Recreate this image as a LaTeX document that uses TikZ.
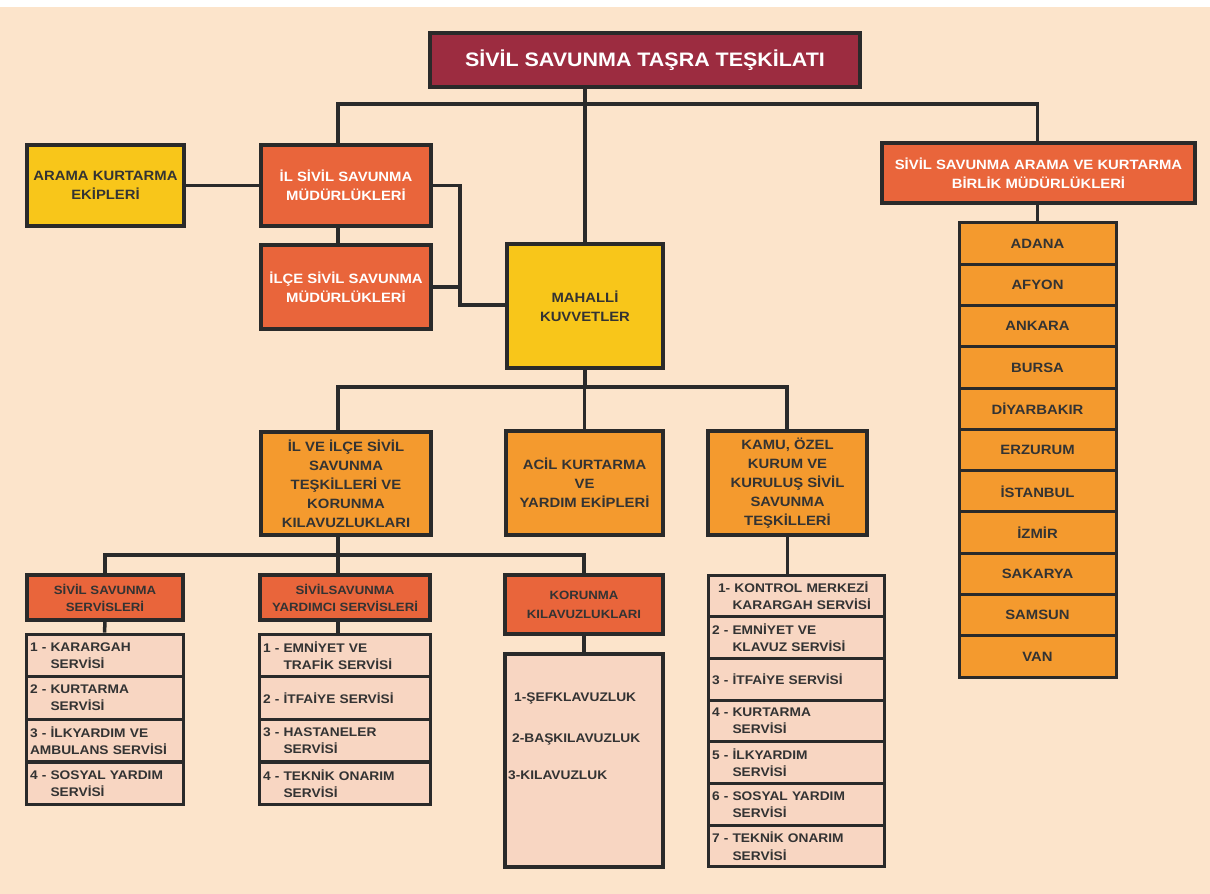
\documentclass[tikz,border=0pt]{standalone}
\usepackage{fontspec}
\setmainfont[FakeStretch=1.1]{Liberation Sans}
\definecolor{paper}{HTML}{FCE4CB}
\definecolor{wine}{HTML}{9C2C40}
\definecolor{brick}{HTML}{E9653B}
\definecolor{gold}{HTML}{F8C61A}
\definecolor{amber}{HTML}{F49A2E}
\definecolor{blush}{HTML}{F8D6C2}
\definecolor{edge}{HTML}{2A2A2A}
\definecolor{ink}{HTML}{333333}
\newcommand\rowind{\hphantom{1 - }}
\begin{document}
\begin{tikzpicture}[x=1pt, y=-1pt,
    box/.style={draw=edge, line width=3.5pt, align=center, inner sep=2pt, text=ink,
      font=\fontsize{13.5}{19}\selectfont\bfseries},
    titlebox/.style={box, fill=wine, text=white, font=\fontsize{19.5}{22}\selectfont\bfseries},
    redbox/.style={box, fill=brick, text=white},
    yellowbox/.style={box, fill=gold},
    orangebox/.style={box, fill=amber},
    headbox/.style={box, fill=brick, font=\fontsize{12}{17}\selectfont\bfseries},
    citybox/.style={box, fill=amber, line width=3pt, minimum width=157, minimum height=41.3},
    rowbox/.style={draw=edge, line width=3pt, fill=blush, align=left, inner xsep=4pt,
      inner ysep=1pt, text=ink, minimum height=42.8, font=\fontsize{12.5}{17}\selectfont\bfseries},
    leftrow/.style={rowbox, text width=149},
    midrow/.style={rowbox, text width=163},
    kamurow/.style={rowbox, text width=168, minimum height=41.7,
      font=\fontsize{12.5}{17.5}\selectfont\bfseries},
    item/.style={anchor=west, inner sep=0pt, text=ink, font=\fontsize{12.5}{15}\selectfont\bfseries},
    link/.style={draw=edge, line width=3.5pt}]
    \useasboundingbox (0,0) rectangle (1210,894);
    \fill[paper] (0,0) rectangle (1210,894);
    \fill[white] (0,0) rectangle (1210,7);

    \node[titlebox, minimum width=430, minimum height=54] (top) at (645,60) {SİVİL SAVUNMA TAŞRA TEŞKİLATI};
    \node[yellowbox, minimum width=157, minimum height=81] (arama) at (105.5,185.5) {ARAMA KURTARMA\\EKİPLERİ};
    \node[redbox, minimum width=170, minimum height=81] (il) at (346,185.5) {İL SİVİL SAVUNMA\\MÜDÜRLÜKLERİ};
    \node[redbox, minimum width=170, minimum height=84] (ilce) at (346,287) {İLÇE SİVİL SAVUNMA\\MÜDÜRLÜKLERİ};
    \node[yellowbox, minimum width=156, minimum height=124] (mah) at (585,306) {MAHALLİ\\KUVVETLER};
    \node[redbox, minimum width=313, minimum height=60] (birlik) at (1038.5,173) {SİVİL SAVUNMA ARAMA VE KURTARMA\\BİRLİK MÜDÜRLÜKLERİ};

    \node[citybox] (c1) at (1037.5,243.6) {ADANA};
    \node[citybox] (c2) at (1037.5,284.9) {AFYON};
    \node[citybox] (c3) at (1037.5,326.2) {ANKARA};
    \node[citybox] (c4) at (1037.5,367.5) {BURSA};
    \node[citybox] (c5) at (1037.5,408.7) {DİYARBAKIR};
    \node[citybox] (c6) at (1037.5,450.0) {ERZURUM};
    \node[citybox] (c7) at (1037.5,491.3) {İSTANBUL};
    \node[citybox] (c8) at (1037.5,532.6) {İZMİR};
    \node[citybox] (c9) at (1037.5,573.8) {SAKARYA};
    \node[citybox] (c10) at (1037.5,615.1) {SAMSUN};
    \node[citybox] (c11) at (1037.5,656.4) {VAN};

    \node[orangebox, minimum width=170, minimum height=103] (ilve) at (346,483.5) {İL VE İLÇE SİVİL\\SAVUNMA\\TEŞKİLLERİ VE\\KORUNMA\\KILAVUZLUKLARI};
    \node[orangebox, minimum width=157, minimum height=104] (acil) at (584.5,483) {ACİL KURTARMA\\VE\\YARDIM EKİPLERİ};
    \node[orangebox, minimum width=159, minimum height=104] (kamu) at (787.5,483) {KAMU, ÖZEL\\KURUM VE\\KURULUŞ SİVİL\\SAVUNMA\\TEŞKİLLERİ};

    \node[headbox, minimum width=156, minimum height=45] (ss) at (105,597.5) {SİVİL SAVUNMA\\SERVİSLERİ};
    \node[headbox, minimum width=170, minimum height=45] (sy) at (345,597.5) {SİVİLSAVUNMA\\YARDIMCI SERVİSLERİ};
    \node[headbox, minimum width=158, minimum height=59, font=\fontsize{12}{19}\selectfont\bfseries] (kor) at (584,604.5) {KORUNMA\\KILAVUZLUKLARI};

    \node[leftrow] (l1) at (104.5,655.5) {1 - KARARGAH\\\rowind SERVİSİ};
    \node[leftrow] (l2) at (104.5,698) {2 - KURTARMA\\\rowind SERVİSİ};
    \node[leftrow] (l3) at (104.5,740.5) {3 - İLKYARDIM VE\\AMBULANS SERVİSİ};
    \node[leftrow] (l4) at (104.5,783.5) {4 - SOSYAL YARDIM\\\rowind SERVİSİ};

    \node[midrow] (m1) at (344.5,655.5) {1 - EMNİYET VE\\\rowind TRAFİK SERVİSİ};
    \node[midrow] (m2) at (344.5,698) {2 - İTFAİYE SERVİSİ};
    \node[midrow] (m3) at (344.5,740.5) {3 - HASTANELER\\\rowind SERVİSİ};
    \node[midrow] (m4) at (344.5,783.5) {4 - TEKNİK ONARIM\\\rowind SERVİSİ};

    \node[draw=edge, line width=3.5pt, fill=blush, minimum width=158, minimum height=213] (korl) at (584,760.5) {};
    \node[item] (k1) at (514,698) {1-ŞEFKLAVUZLUK};
    \node[item] (k2) at (512,739) {2-BAŞKILAVUZLUK};
    \node[item] (k3) at (508,775) {3-KILAVUZLUK};

    \node[kamurow] (n1) at (796,595.9) {\hspace*{6pt}1- KONTROL MERKEZİ\\\rowind KARARGAH SERVİSİ};
    \node[kamurow] (n2) at (796,637.6) {2 - EMNİYET VE\\\rowind KLAVUZ SERVİSİ};
    \node[kamurow] (n3) at (796,679.3) {3 - İTFAİYE SERVİSİ};
    \node[kamurow] (n4) at (796,721.0) {4 - KURTARMA\\\rowind SERVİSİ};
    \node[kamurow] (n5) at (796,762.8) {5 - İLKYARDIM\\\rowind SERVİSİ};
    \node[kamurow] (n6) at (796,804.5) {6 - SOSYAL YARDIM\\\rowind SERVİSİ};
    \node[kamurow] (n7) at (796,846.1) {7 - TEKNİK ONARIM\\\rowind SERVİSİ};

    \coordinate (j1) at (338,104);
    \coordinate (j2) at (1037.5,104);
    \coordinate (j3) at (460,305);
    \coordinate (j4) at (338,387);
    \coordinate (j5) at (787,387);
    \coordinate (j6) at (338,555);

    \draw[link] (mah.north) -- (mah.north |- top.south);
    \draw[link] (il.north -| j1) -- (j1) -- (j2) -- (birlik.north -| j2);
    \draw[link] (arama.east) -- (il.west);
    \draw[link] (il.south -| j1) -- (ilce.north -| j1);
    \draw[link] (il.east) -| (j3) -- (j3 -| mah.west);
    \draw[link] (ilce.east) -- (ilce.east -| j3);
    \draw[link] (birlik.south -| c1) -- (c1.north);
    \draw[link] (mah.south) -- (mah.south |- j4);
    \draw[link] (ilve.north -| j4) -- (j4) -- (j5) -- (kamu.north -| j5);
    \draw[link] (acil.north) -- (acil.north |- j4);
    \draw[link] (ilve.south -| j6) -- (sy.north -| j6);
    \draw[link] (ss.north) |- (j6) -| (kor.north);
    \draw[link] (ss.south) -- (l1.north);
    \draw[link] (sy.south -| j6) -- (m1.north -| j6);
    \draw[link] (kor.south) -- (korl.north);
    \draw[link] (kamu.south) -- (kamu.south |- n1.north);
\end{tikzpicture}
\end{document}
